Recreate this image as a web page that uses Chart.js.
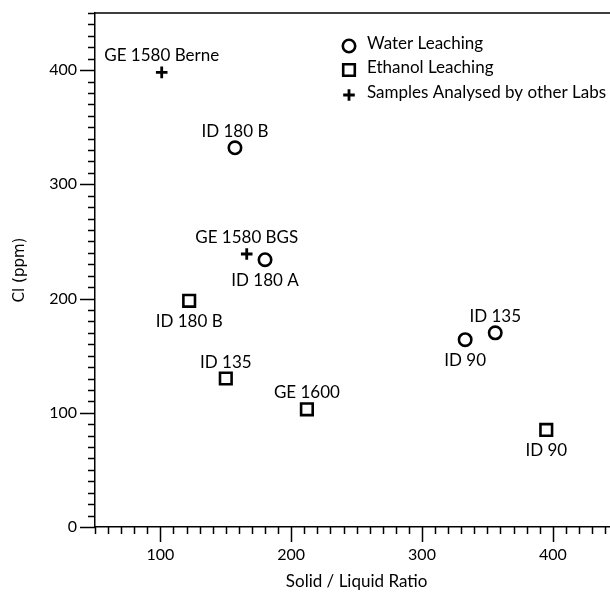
<!DOCTYPE html>
<html>
<head>
<meta charset="utf-8">
<script src="https://cdn.jsdelivr.net/npm/chart.js@4"></script>
<style>
  html, body { margin: 0; padding: 0; overflow: hidden; background: #fff; }
  #wrap { width: 629px; height: 592px; }
</style>
</head>
<body>
<div id="wrap"><canvas id="c" width="629" height="592"></canvas></div>
<script>
// Water leaching samples
const waterNames = ['ID 180 B', 'ID 180 A', 'ID 90', 'ID 135'];
const waterRatio = [157, 180, 333, 356];
const waterCl = [332, 234, 164, 170];
const waterLabelSide = ['above', 'below', 'below', 'above'];

// Ethanol leaching samples
const ethanolNames = ['ID 180 B', 'ID 135', 'GE 1600', 'ID 90'];
const ethanolRatio = [122, 150, 212, 395];
const ethanolCl = [198, 130, 103, 85];
const ethanolLabelSide = ['below', 'above', 'above', 'below'];

// Samples analysed by other labs
const labNames = ['GE 1580 Berne', 'GE 1580 BGS'];
const labRatio = [101, 166];
const labCl = [398, 239];
const labLabelSide = ['above', 'above'];

const seriesNames = ['Water Leaching', 'Ethanol Leaching', 'Samples Analysed by other Labs'];
const xTickValues = [100, 200, 300, 400];
const yTickValues = [0, 100, 200, 300, 400];

const FONT = 'Lato';
const INK = '#000';

const toPoints = (xs, ys) => xs.map((x, i) => ({ x: x, y: ys[i] }));

const datasets = [
  {
    label: seriesNames[0],
    data: toPoints(waterRatio, waterCl),
    names: waterNames, sides: waterLabelSide,
    pointStyle: 'circle', pointRadius: 6.2, borderWidth: 2.6,
    borderColor: INK, backgroundColor: 'rgba(0,0,0,0)'
  },
  {
    label: seriesNames[1],
    data: toPoints(ethanolRatio, ethanolCl),
    names: ethanolNames, sides: ethanolLabelSide,
    pointStyle: 'rect', pointRadius: 8.2, borderWidth: 2.6,
    borderColor: INK, backgroundColor: 'rgba(0,0,0,0)'
  },
  {
    label: seriesNames[2],
    data: toPoints(labRatio, labCl),
    names: labNames, sides: labLabelSide,
    pointStyle: 'cross', pointRadius: 5.8, borderWidth: 2.8,
    borderColor: INK, backgroundColor: 'rgba(0,0,0,0)'
  }
];

// Axis frame: top rule plus major/minor tick marks on both axes
const axisFrame = {
  id: 'axisFrame',
  afterDraw(chart) {
    const { ctx, chartArea: a, scales: { x, y } } = chart;
    ctx.save();
    ctx.strokeStyle = INK;
    ctx.lineWidth = 1.5;
    ctx.beginPath();
    ctx.moveTo(a.left, a.top);
    ctx.lineTo(a.right + 5, a.top);
    x.ticks.forEach(t => {
      const px = Math.round(x.getPixelForValue(t.value)) + 0.5;
      const len = t.value % 100 === 0 ? 15 : 7;
      ctx.moveTo(px, a.bottom);
      ctx.lineTo(px, a.bottom + len);
    });
    y.ticks.forEach(t => {
      const py = Math.round(y.getPixelForValue(t.value)) + 0.5;
      const len = t.value % 100 === 0 ? 15 : 7;
      ctx.moveTo(a.left - len, py);
      ctx.lineTo(a.left, py);
    });
    ctx.stroke();
    ctx.restore();
  }
};

// Sample names written above or below each marker
const pointNames = {
  id: 'pointNames',
  afterDatasetsDraw(chart) {
    const { ctx, scales: { x, y } } = chart;
    ctx.save();
    ctx.fillStyle = INK;
    ctx.font = '17px ' + FONT;
    ctx.textAlign = 'center';
    ctx.textBaseline = 'alphabetic';
    chart.data.datasets.forEach(ds => {
      ds.data.forEach((p, i) => {
        const px = x.getPixelForValue(p.x);
        const py = y.getPixelForValue(p.y);
        const ty = ds.sides[i] === 'above' ? py - 11 : py + 26;
        ctx.fillText(ds.names[i], px, ty);
      });
    });
    ctx.restore();
  }
};

// Legend in the upper right of the plot
const markerLegend = {
  id: 'markerLegend',
  afterDraw(chart) {
    const { ctx } = chart;
    const mx = 349, tx = 367;
    const rows = [46, 70, 95];
    ctx.save();
    chart.data.datasets.forEach((ds, i) => {
      ctx.strokeStyle = ds.borderColor;
      ctx.fillStyle = ds.backgroundColor;
      ctx.lineWidth = ds.borderWidth;
      Chart.helpers.drawPoint(ctx, {
        pointStyle: ds.pointStyle,
        radius: ds.pointRadius,
        rotation: 0,
        borderWidth: ds.borderWidth
      }, mx, rows[i]);
      ctx.fillStyle = INK;
      ctx.font = '17px ' + FONT;
      ctx.textAlign = 'left';
      ctx.textBaseline = 'middle';
      ctx.fillText(ds.label, tx, rows[i] - 2);
    });
    ctx.restore();
  }
};

new Chart(document.getElementById('c'), {
  type: 'scatter',
  data: { datasets: datasets },
  plugins: [axisFrame, pointNames, markerLegend],
  options: {
    responsive: false,
    animation: false,
    devicePixelRatio: 1,
    layout: { padding: { top: 13, right: 3, left: 0, bottom: 0 } },
    plugins: { legend: { display: false }, tooltip: { enabled: false } },
    scales: {
      x: {
        type: 'linear', min: 50, max: 450,
        afterFit(s) { s.height = 65; },
        grid: { display: false, drawTicks: true, tickLength: 15 },
        border: { display: true, color: INK, width: 1.5 },
        ticks: {
          stepSize: 10, autoSkip: false, maxRotation: 0, padding: 3,
          color: INK, font: { family: FONT, size: 16 },
          callback: v => (xTickValues.includes(v) ? String(v) : '')
        },
        title: {
          display: true, text: 'Solid / Liquid Ratio', color: INK,
          font: { family: FONT, size: 17 }, padding: { top: 0, bottom: 0 }
        }
      },
      y: {
        type: 'linear', min: 0, max: 450,
        afterFit(s) { s.width = 95; },
        grid: { display: false, drawTicks: true, tickLength: 15 },
        border: { display: true, color: INK, width: 1.5 },
        ticks: {
          stepSize: 10, autoSkip: false, padding: 3,
          color: INK, font: { family: FONT, size: 16 },
          callback: v => (yTickValues.includes(v) ? String(v) : '')
        },
        title: {
          display: true, text: 'Cl (ppm)', color: INK,
          font: { family: 'DejaVu Sans', size: 15 }, padding: { top: 11, bottom: 0 }
        }
      }
    }
  }
});
</script>
</body>
</html>
